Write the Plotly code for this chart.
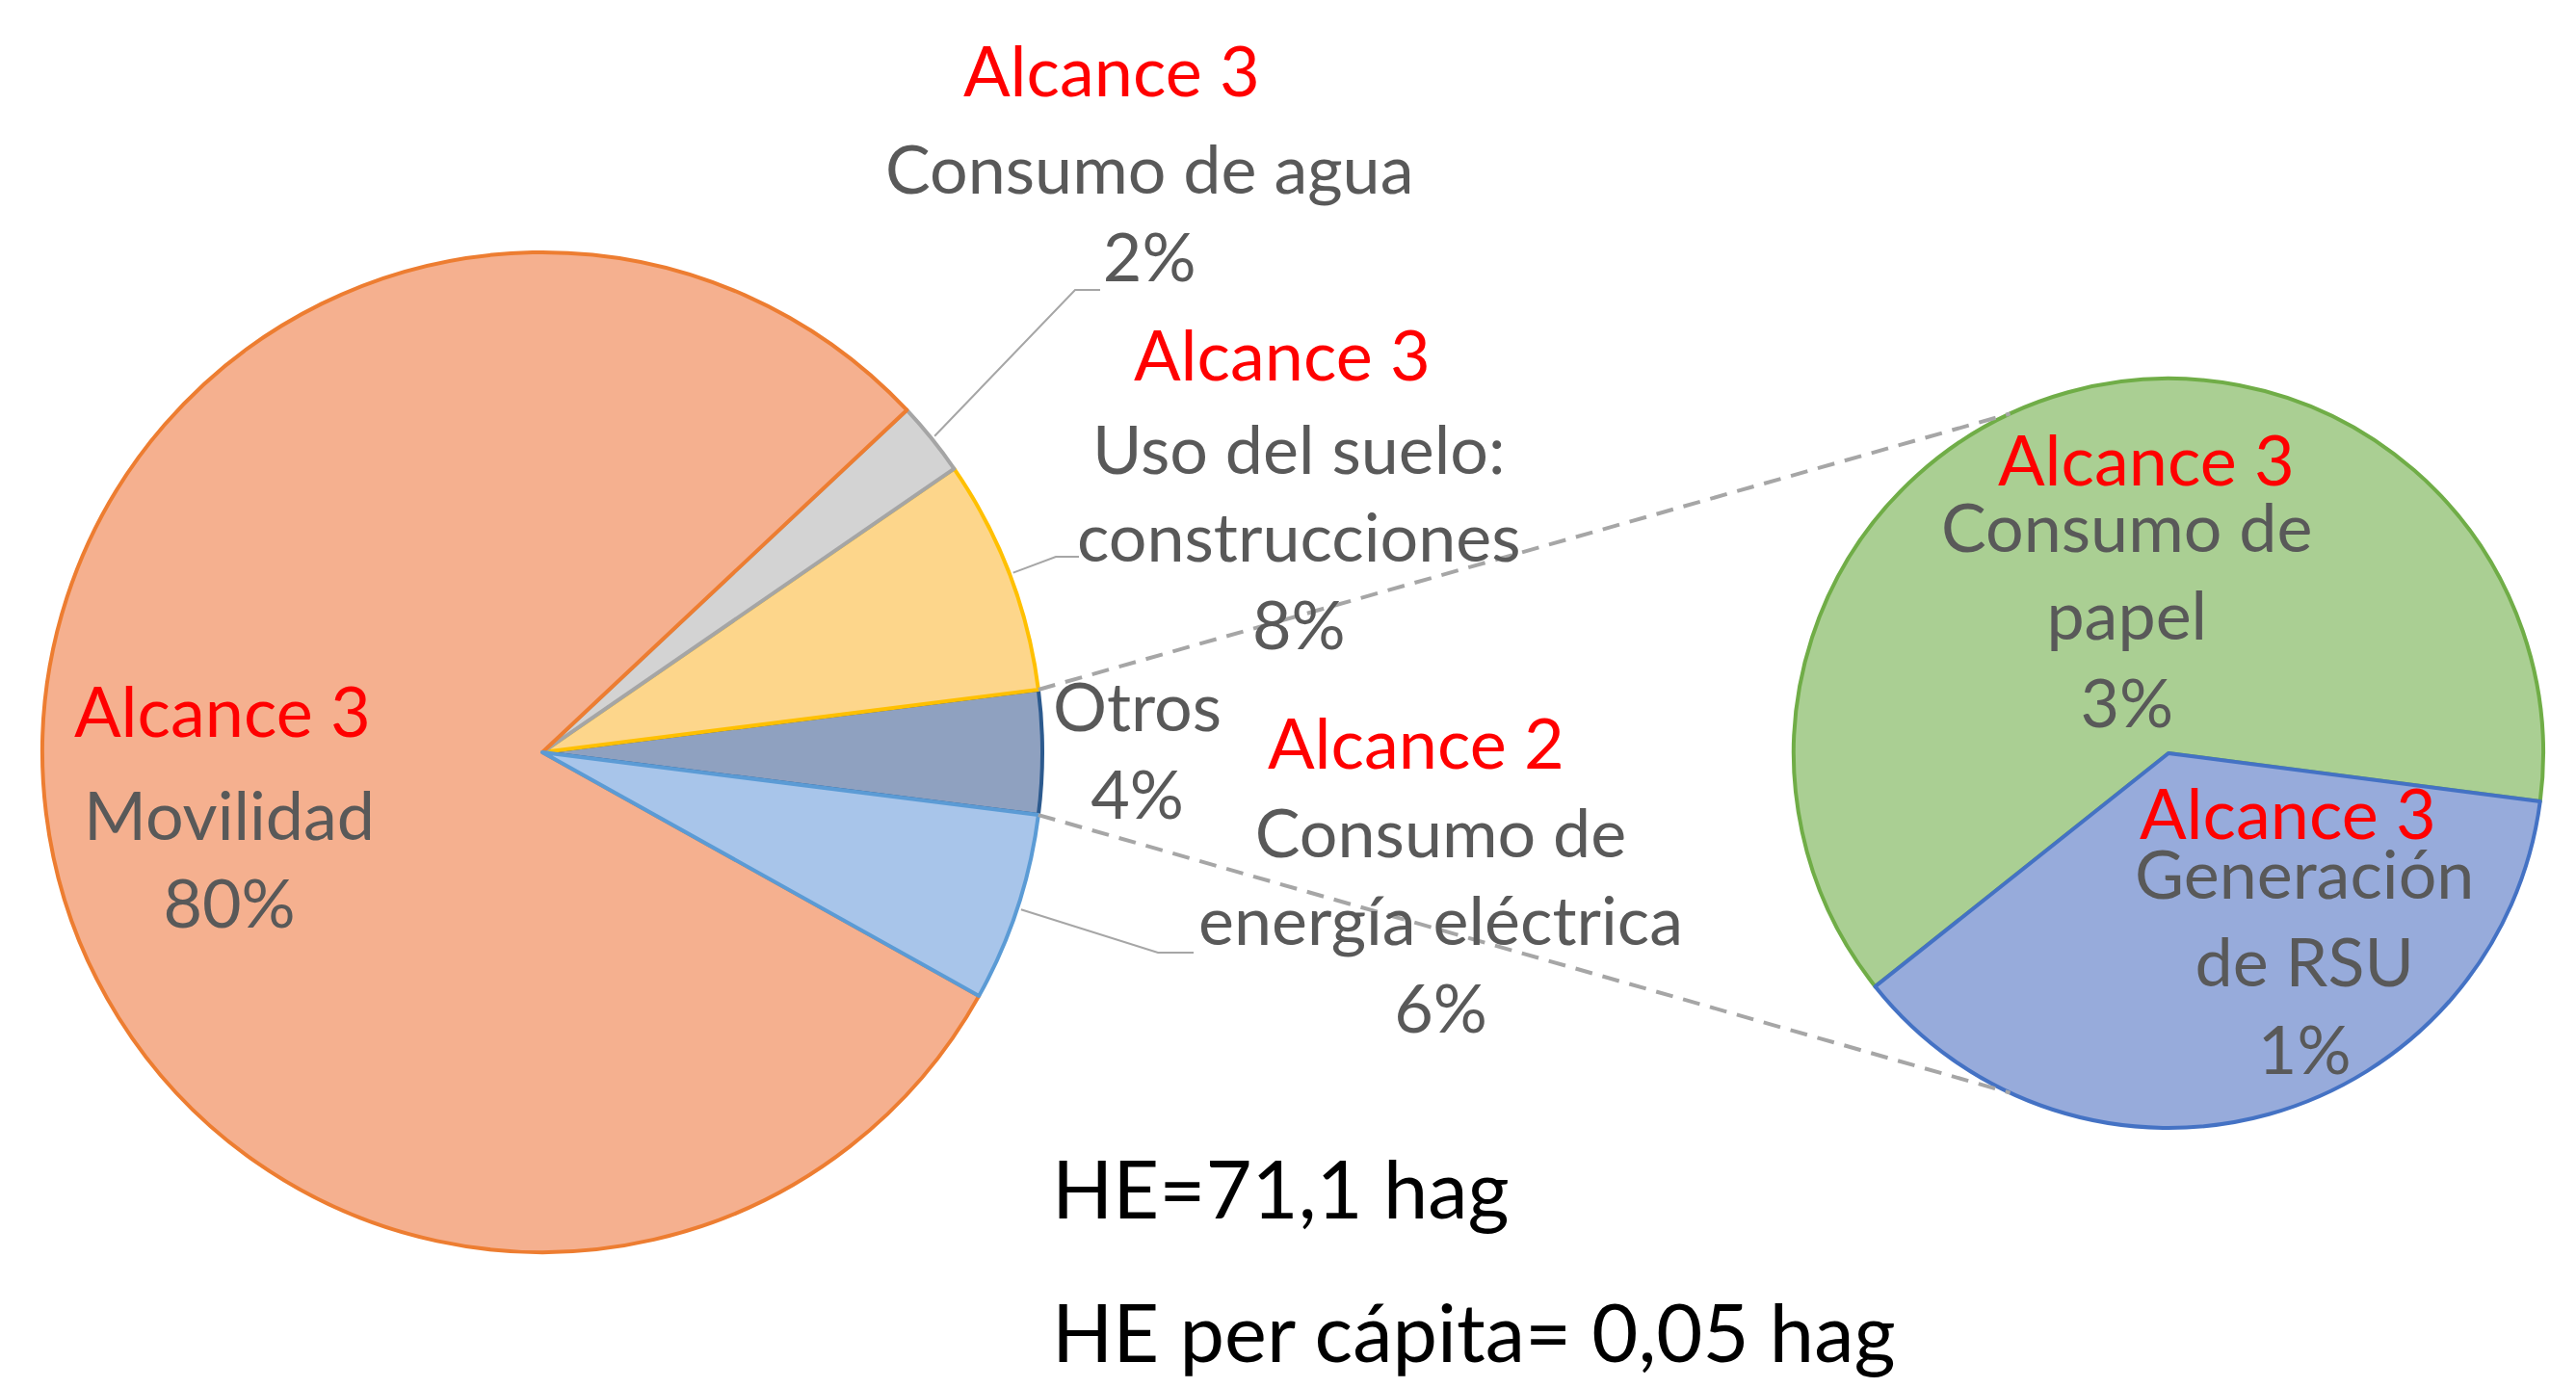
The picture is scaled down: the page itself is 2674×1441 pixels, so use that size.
import math
import plotly.graph_objects as go

W, H = 2674, 1441

# ---------------- data ----------------
sub_names = ["Consumo de<br>papel", "Generación<br>de RSU"]
sub_values = [2.51, 1.49]
sub_scope = ["Alcance 3", "Alcance 3"]

main_names = ["Otros", "Uso del suelo:<br>construcciones", "Consumo de agua",
              "Movilidad", "Consumo de<br>energía eléctrica"]
main_values = [sum(sub_values), 7.6, 2.4, 79.9, 6.1]
main_scope = ["", "Alcance 3", "Alcance 3", "Alcance 3", "Alcance 2"]

footer_lines = ["HE=71,1 hag", "HE per cápita= 0,05 hag"]

# ---------------- styles ----------------
main_fill = ["#8FA1C0", "#FDD68B", "#D3D3D3", "#F5B08F", "#A8C5EA"]
main_edge = ["#2C5A8E", "#FFC000", "#A5A5A5", "#ED7D31", "#5B9BD5"]
sub_fill = ["#AACF93", "#97ABDB"]
sub_edge = ["#70AD47", "#4472C4"]

RED = "#FF0000"
GRAY = "#595959"
FONT = "Lato"
DY = -11   # global vertical text nudge (px)

# geometry (pixels)
MC = (555, 773); MR = 519
SC = (2243, 774); SR = 389
SUB_START = -7.4       # math angle where the first sub slice starts
CONN_ANGLE = 115       # where the connector lines meet the second pie


def fx(x):
    return x / W


def fy(y):
    return 1 - y / H


def pt(c, r, ang):
    a = math.radians(ang)
    return c[0] + r * math.cos(a), c[1] - r * math.sin(a)


tot = sum(main_values)
otros_deg = 360 * main_values[0] / tot
main_start = -otros_deg / 2
sub_tot = sum(sub_values)
sub_first_deg = 360 * sub_values[0] / sub_tot

# mid angles of main slices (counterclockwise)
mids = []
acc = main_start
for v in main_values:
    d = 360 * v / tot
    mids.append(acc + d / 2)
    acc += d

fig = go.Figure()

# plotly: with counterclockwise direction the first slice ends at the rotation line
fig.add_trace(go.Pie(
    values=main_values, labels=[n.replace("<br>", " ") for n in main_names],
    sort=False, direction="counterclockwise", rotation=90 - main_start - otros_deg,
    textinfo="none", hoverinfo="label+percent",
    marker=dict(colors=main_fill, line=dict(color=main_edge, width=4)),
    domain=dict(x=[fx(MC[0] - MR), fx(MC[0] + MR)], y=[fy(MC[1] + MR), fy(MC[1] - MR)]),
    showlegend=False,
))

fig.add_trace(go.Pie(
    values=sub_values, labels=[n.replace("<br>", " ") for n in sub_names],
    sort=False, direction="counterclockwise", rotation=90 - SUB_START - sub_first_deg,
    textinfo="none", hoverinfo="label",
    marker=dict(colors=sub_fill, line=dict(color=sub_edge, width=4)),
    domain=dict(x=[fx(SC[0] - SR), fx(SC[0] + SR)], y=[fy(SC[1] + SR), fy(SC[1] - SR)]),
    showlegend=False,
))

shapes = []
# dashed connectors between Otros slice and second pie
for sgn in (1, -1):
    x0, y0 = pt(MC, MR, sgn * otros_deg / 2)
    x1, y1 = pt(SC, SR, sgn * CONN_ANGLE)
    shapes.append(dict(type="line", xref="paper", yref="paper",
                       x0=fx(x0), y0=fy(y0), x1=fx(x1), y1=fy(y1),
                       line=dict(color="#A6A6A6", width=4, dash="18px,11px")))

# leader lines: (slice index, elbow, end)
leaders = [(2, (1108, 293), (1134, 293)),
           (1, (1088, 570), (1112, 570)),
           (4, (1194, 981), (1231, 981))]
for idx, elbow, end in leaders:
    sx, sy = pt(MC, MR + 4, mids[idx])
    path = f"M {fx(sx)} {fy(sy)} L {fx(elbow[0])} {fy(elbow[1])} L {fx(end[0])} {fy(end[1])}"
    shapes.append(dict(type="path", xref="paper", yref="paper", path=path,
                       line=dict(color="#A6A6A6", width=2)))

# label placements (pixels): scope pos, text-block centre
main_lab_pos = [(None, (1172, 780)),
                ((1323, 370), (1340, 559)),
                ((1146, 75), (1185, 223)),
                ((223, 740), (230, 893)),
                ((1462, 773), (1487, 957))]
sub_lab_pos = [((2220, 479), (2200, 640)),
               ((2367, 846), (2384, 1000))]

ann = []


def add_label(name, value, scope, spos, tpos):
    if scope and spos:
        ann.append(dict(x=fx(spos[0]), y=fy(spos[1] + DY), xref="paper", yref="paper",
                        text=scope, showarrow=False, xanchor="center", yanchor="middle",
                        font=dict(family=FONT, size=72, color=RED)))
    ann.append(dict(x=fx(tpos[0]), y=fy(tpos[1] + DY), xref="paper", yref="paper",
                    text=f"{name}<br>{round(value)}%", showarrow=False,
                    xanchor="center", yanchor="middle", align="center",
                    font=dict(family=FONT, size=70, color=GRAY)))


for n, v, s, (sp, tp) in zip(main_names, main_values, main_scope, main_lab_pos):
    add_label(n, v, s, sp, tp)
for n, v, s, (sp, tp) in zip(sub_names, sub_values, sub_scope, sub_lab_pos):
    add_label(n, v, s, sp, tp)

for line, yy in zip(footer_lines, (1236, 1385)):
    ann.append(dict(x=fx(1082), y=fy(yy + DY), xref="paper", yref="paper", text=line,
                    showarrow=False, xanchor="left", yanchor="middle",
                    font=dict(family=FONT, size=83, color="#000000")))

fig.update_layout(
    width=W, height=H, margin=dict(l=0, r=0, t=0, b=0),
    paper_bgcolor="white", plot_bgcolor="white",
    shapes=shapes, annotations=ann,
)

fig.write_html("out.html")
